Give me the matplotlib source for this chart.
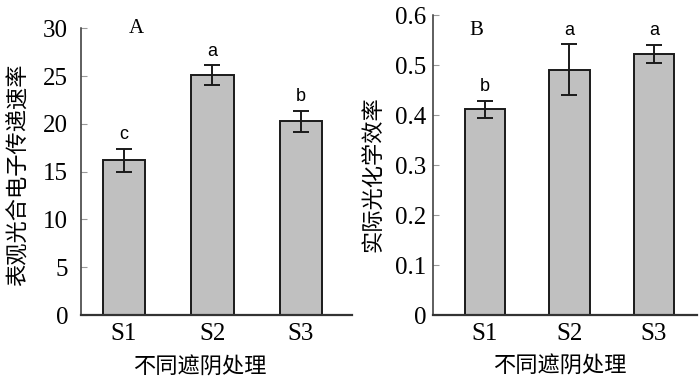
import matplotlib
matplotlib.use("Agg")
import matplotlib.pyplot as plt

# data
groups = ['S1', 'S2', 'S3']
etr_mean = [16.2, 25.1, 20.3]
etr_err = [1.2, 1.05, 1.1]
etr_sig = ['c', 'a', 'b']

phi_mean = [0.412, 0.491, 0.523]
phi_err = [0.017, 0.051, 0.018]
phi_sig = ['b', 'a', 'a']

cjk = ['Noto Sans CJK SC', 'DejaVu Sans']
serif = 'Liberation Serif'

fig = plt.figure(figsize=(7, 3.8), dpi=100)
ax1 = fig.add_axes([0.1153, 0.171, 0.3876, 0.7545])
ax2 = fig.add_axes([0.619, 0.171, 0.3767, 0.7895])


def draw(ax, means, errs, sig, ylim, yticks, ylabel, tag, xlim, tick_pad, tag_xy, ylab_xy, xlab_xy):
    x = range(len(groups))
    ax.bar(x, means, width=0.48, color='#c0c0c0', edgecolor='#1a1a1a', linewidth=1.4, zorder=2)
    ax.errorbar(x, means, yerr=errs, fmt='none', ecolor='#1a1a1a', elinewidth=1.4,
                capsize=6, capthick=1.4, zorder=3)
    for xi, m, e, s in zip(x, means, errs, sig):
        ax.annotate(s, (xi, m + e), xytext=(0, 10), textcoords='offset points',
                    ha='center', va='center', fontsize=13, family='Liberation Sans')
    ax.set_xlim(*xlim)
    ax.set_ylim(*ylim)
    ax.set_yticks(yticks)
    ax.set_xticks(list(x))
    ax.set_xticklabels(groups)
    for sp in ['top', 'right']:
        ax.spines[sp].set_visible(False)
    ax.spines['left'].set_color('#333333')
    ax.spines['left'].set_linewidth(1.1)
    ax.spines['bottom'].set_color('#333333')
    ax.spines['bottom'].set_linewidth(1.6)
    ax.tick_params(axis='y', direction='in', length=4, width=0.8, color='#999999',
                   pad=tick_pad, labelsize=18)
    ax.tick_params(axis='x', length=0, pad=6, labelsize=18)
    for lb in ax.get_xticklabels() + ax.get_yticklabels():
        lb.set_family(serif)
    ax.set_ylabel(ylabel, family=cjk, fontsize=16)
    ax.yaxis.set_label_coords(*ylab_xy)
    ax.set_xlabel('不同遮阴处理', family=cjk, fontsize=16)
    ax.xaxis.set_label_coords(*xlab_xy)
    ax.text(tag_xy[0], tag_xy[1], tag, transform=ax.transAxes, family=serif, fontsize=15,
            ha='center', va='center')


draw(ax1, etr_mean, etr_err, etr_sig, (0, 30), [0, 5, 10, 15, 20, 25, 30],
     '表观光合电子传递速率', 'A', (-0.49, 2.58), 9, (0.205, 1.0), (-0.186, 0.49), (0.44, -0.14))
draw(ax2, phi_mean, phi_err, phi_sig, (0, 0.6), [0, 0.1, 0.2, 0.3, 0.4, 0.5, 0.6],
     '实际光化学效率', 'B', (-0.61, 2.51), 5, (0.164, 0.95), (-0.187, 0.47), (0.48, -0.133))
ax2.set_yticklabels(['0', '0.1', '0.2', '0.3', '0.4', '0.5', '0.6'], family=serif)

fig.savefig('out.png', dpi=100)
